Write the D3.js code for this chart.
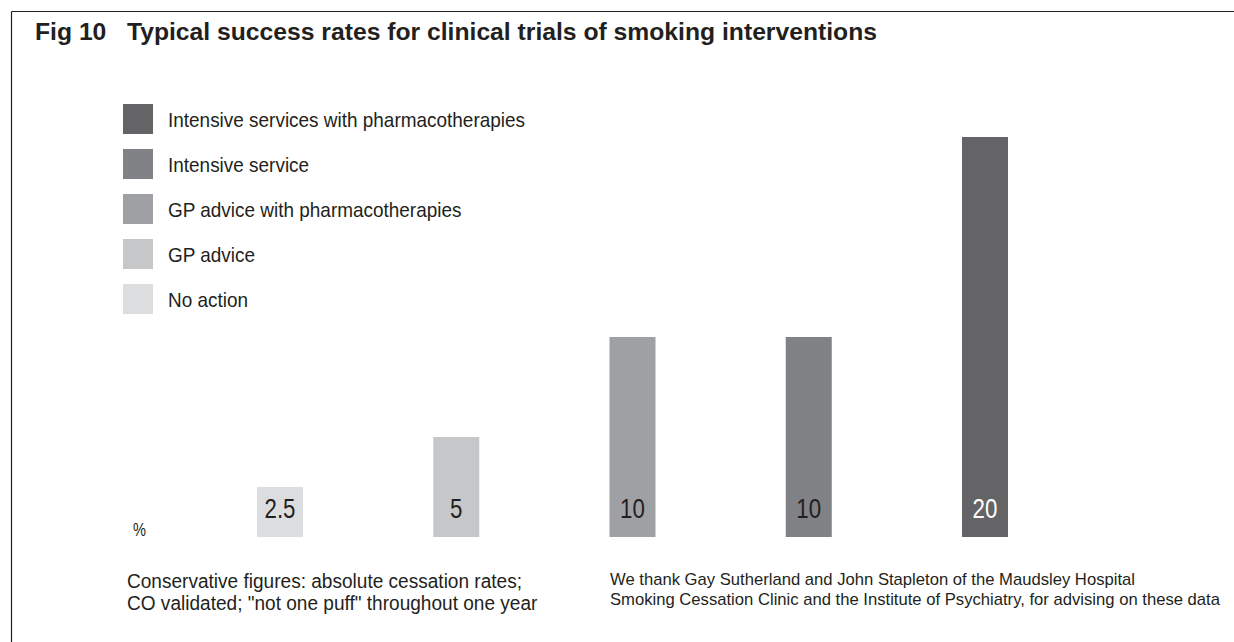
<!DOCTYPE html>
<html>
<head>
<meta charset="utf-8">
<script src="https://cdn.jsdelivr.net/npm/d3@7"></script>
<style>
  body { margin: 0; background: #fff; }
  text { font-family: "Liberation Sans", Arial, sans-serif; }
</style>
</head>
<body>
<div id="VizBox"></div>
<script>
// categories and values (cessation rate, %)
var categories = ["No action", "GP advice", "GP advice with pharmacotherapies", "Intensive service", "Intensive services with pharmacotherapies"];
var values = [2.5, 5, 10, 10, 20];
var valueLabels = ["2.5", "5", "10", "10", "20"];
var colours = ["#dcdddf", "#c6c7c9", "#9fa0a4", "#818286", "#646466"];
var labelColours = ["#231f20", "#231f20", "#231f20", "#231f20", "#ffffff"];

var title = "Fig 10   Typical success rates for clinical trials of smoking interventions";
var noteLeft = ["Conservative figures: absolute cessation rates;", "CO validated; \"not one puff\" throughout one year"];
var noteRight = ["We thank Gay Sutherland and John Stapleton of the Maudsley Hospital", "Smoking Cessation Clinic and the Institute of Psychiatry, for advising on these data"];

var data = categories.map(function(c, i) {
  return {group: c, value: values[i], label: valueLabels[i], fill: colours[i], txt: labelColours[i]};
});

var width = 1234, height = 642;

// squeeze a set of texts horizontally (the original uses a condensed face)
// k is taken from the node "ref" so that it gets width "target"
function condense(sel, ref, target) {
  var k = target / ref.getComputedTextLength();
  sel.each(function() {
    var n = this.getComputedTextLength();
    d3.select(this).attr("textLength", n * k).attr("lengthAdjust", "spacingAndGlyphs");
  });
}

var svg = d3.select("#VizBox")
  .append("svg")
    .attr("width", width)
    .attr("height", height);

svg.append("rect").attr("width", width).attr("height", height).attr("fill", "#fff");

// frame: top rule and left rule
svg.append("line").attr("x1", 11.5).attr("x2", width).attr("y1", 11.5).attr("y2", 11.5)
  .attr("stroke", "#231f20").attr("stroke-width", 1.2);
svg.append("line").attr("x1", 11.5).attr("x2", 11.5).attr("y1", 11.5).attr("y2", height)
  .attr("stroke", "#231f20").attr("stroke-width", 1.2);

// title
var t = svg.append("text")
  .attr("x", 35).attr("y", 40)
  .attr("font-size", "23.5px")
  .attr("font-weight", "bold")
  .attr("fill", "#231f20")
  .attr("xml:space", "preserve")
  .style("white-space", "pre")
  .text(title);
condense(t, t.node(), 842);

// scales
var x = d3.scaleBand()
  .domain(categories)
  .range([257, 1008])
  .paddingInner(0.739)
  .paddingOuter(0);

var y = d3.scaleLinear()
  .domain([0, 20])
  .range([537, 137]);

// bars
svg.selectAll("rect.bar")
  .data(data)
  .enter()
  .append("rect")
    .attr("class", "bar")
    .attr("x", function(d) { return x(d.group); })
    .attr("y", function(d) { return y(d.value); })
    .attr("width", x.bandwidth())
    .attr("height", function(d) { return y(0) - y(d.value); })
    .attr("fill", function(d) { return d.fill; });

// value labels inside the bars
var vals = svg.selectAll("text.val")
  .data(data)
  .enter()
  .append("text")
    .attr("class", "val")
    .attr("x", function(d) { return x(d.group) + x.bandwidth() / 2; })
    .attr("y", y(0) - 19)
    .attr("text-anchor", "middle")
    .attr("font-size", "28px")
    .attr("fill", function(d) { return d.txt; })
    .text(function(d) { return d.label; });
condense(vals, vals.nodes()[0], 31);

// % unit
var pct = svg.append("text")
  .attr("x", 133).attr("y", 536)
  .attr("font-size", "19px")
  .attr("fill", "#231f20")
  .text("%");
condense(pct, pct.node(), 13);

// legend (darkest first)
var legend = svg.selectAll("g.legend")
  .data(data.slice().reverse())
  .enter()
  .append("g")
    .attr("class", "legend")
    .attr("transform", function(d, i) { return "translate(123," + (104 + i * 45) + ")"; });

legend.append("rect")
  .attr("width", 30).attr("height", 30)
  .attr("fill", function(d) { return d.fill; });

var legText = legend.append("text")
  .attr("x", 45).attr("y", 23)
  .attr("font-size", "21px")
  .attr("fill", "#231f20")
  .text(function(d) { return d.group; });
condense(legText, legText.nodes()[0], 357);

// notes
var nl = svg.selectAll("text.noteL")
  .data(noteLeft)
  .enter()
  .append("text")
    .attr("class", "noteL")
    .attr("x", 127)
    .attr("y", function(d, i) { return 588 + i * 22; })
    .attr("font-size", "19.5px")
    .attr("fill", "#231f20")
    .text(function(d) { return d; });
condense(nl, nl.nodes()[0], 395);

var nr = svg.selectAll("text.noteR")
  .data(noteRight)
  .enter()
  .append("text")
    .attr("class", "noteR")
    .attr("x", 610)
    .attr("y", function(d, i) { return 585 + i * 20; })
    .attr("font-size", "17px")
    .attr("fill", "#231f20")
    .text(function(d) { return d; });
condense(nr, nr.nodes()[1], 610);
</script>
</body>
</html>
